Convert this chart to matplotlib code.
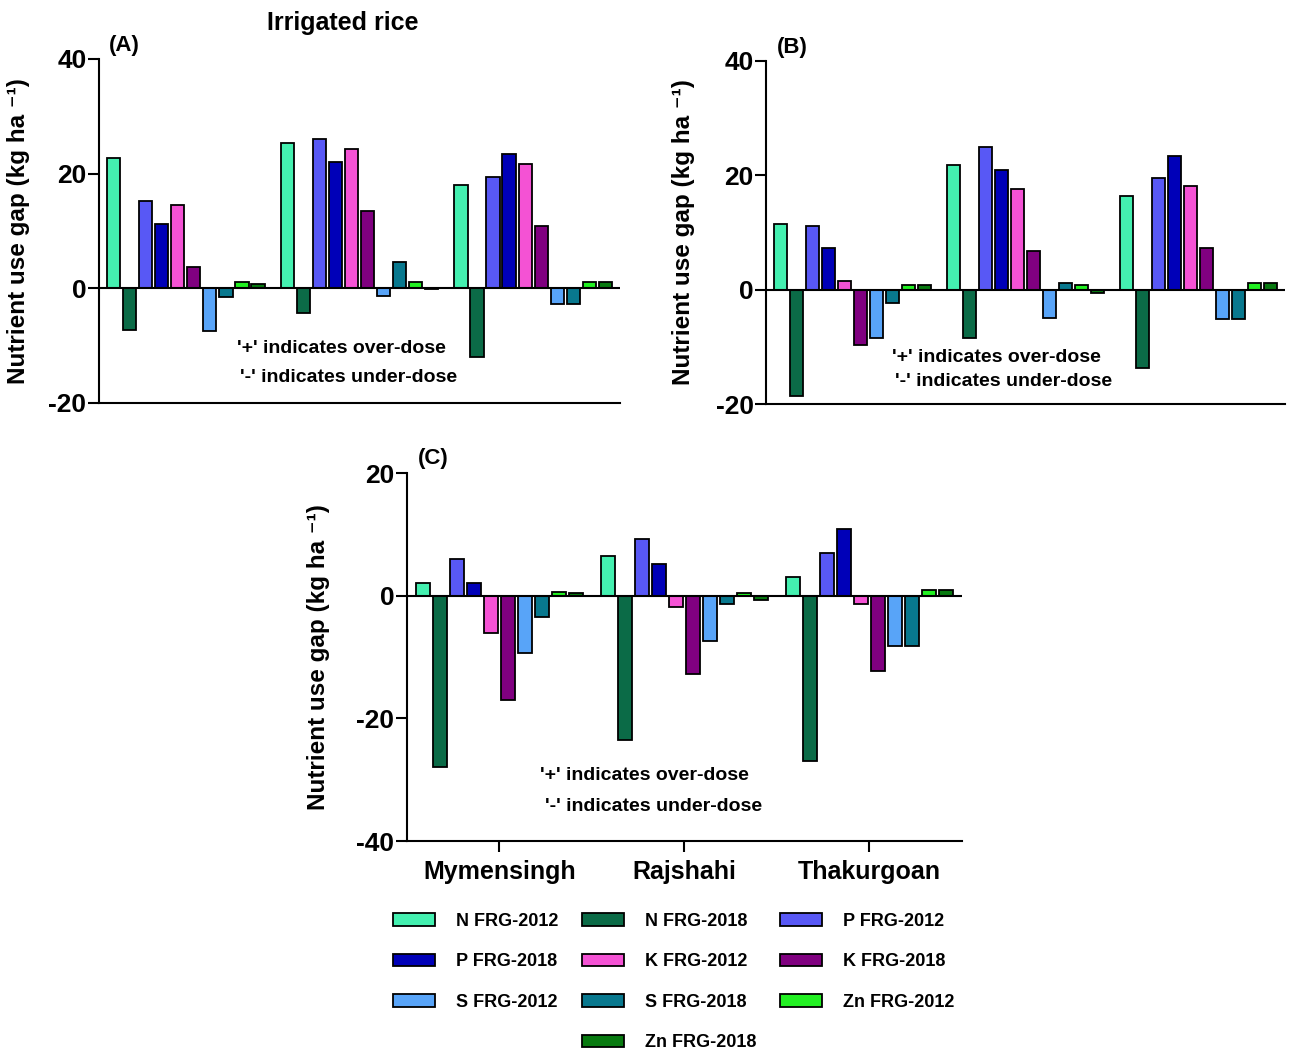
import numpy as np
import matplotlib
matplotlib.use('Agg')
import matplotlib.pyplot as plt
from matplotlib.patches import Patch

plt.rcParams['font.family'] = ['Liberation Sans', 'DejaVu Sans']
plt.rcParams['font.weight'] = 'bold'
plt.rcParams['axes.unicode_minus'] = False

# Locations (groups) and series
locations = ['Mymensingh', 'Rajshahi', 'Thakurgoan']
series = ['N FRG-2012', 'N FRG-2018', 'P FRG-2012', 'P FRG-2018', 'K FRG-2012',
          'K FRG-2018', 'S FRG-2012', 'S FRG-2018', 'Zn FRG-2012', 'Zn FRG-2018']
colors = ['#44F0B0', '#0B6B47', '#5858F5', '#0000B8', '#F452D4',
          '#800080', '#58A4F8', '#08788E', '#22F022', '#087A10']

# Nutrient use gap values, one row per location, columns follow `series`
gap_a = [
    [22.7, -7.2, 15.3, 11.3, 14.6, 3.7, -7.5, -1.5, 1.1, 0.8],
    [25.4, -4.3, 26.0, 22.1, 24.3, 13.4, -1.3, 4.6, 1.1, -0.2],
    [18.1, -11.9, 19.4, 23.4, 21.7, 10.8, -2.8, -2.8, 1.1, 1.1],
]
gap_b = [
    [11.5, -18.6, 11.2, 7.2, 1.5, -9.6, -8.4, -2.4, 0.9, 0.8],
    [21.8, -8.4, 24.9, 20.9, 17.6, 6.7, -4.9, 1.2, 0.8, -0.5],
    [16.4, -13.7, 19.5, 23.4, 18.1, 7.2, -5.2, -5.2, 1.1, 1.1],
]
gap_c = [
    [2.0, -27.9, 6.0, 2.0, -6.0, -17.0, -9.4, -3.4, 0.65, 0.4],
    [6.4, -23.6, 9.2, 5.2, -1.8, -12.8, -7.4, -1.4, 0.4, -0.7],
    [3.0, -26.9, 7.0, 10.9, -1.4, -12.3, -8.2, -8.2, 0.9, 0.9],
]

fig = plt.figure(figsize=(12.9, 10.51), dpi=100)

# axes rectangles in figure fraction
ax_a = fig.add_axes([0.0767, 0.6166, 0.4039, 0.3273])
ax_b = fig.add_axes([0.5938, 0.6156, 0.4023, 0.3264])
ax_c = fig.add_axes([0.3155, 0.1998, 0.4302, 0.3501])

bar_pitch = 0.0924
bar_w = 0.076


def draw_panel(ax, data, ylim, yticks, tag, txt_pos, show_x=False):
    data = np.array(data)
    x = np.arange(len(locations))
    for i, name in enumerate(series):
        offs = (i - 4.5) * bar_pitch
        ax.bar(x + offs, data[:, i], width=bar_w, color=colors[i],
               edgecolor='black', linewidth=1.3, zorder=2)
    ax.axhline(0, color='black', linewidth=1.5, zorder=3)
    ax.set_xlim(-0.5, 2.5)
    ax.set_ylim(*ylim)
    ax.set_yticks(yticks)
    ax.spines['top'].set_visible(False)
    ax.spines['right'].set_visible(False)
    ax.spines['left'].set_linewidth(1.5)
    ax.spines['bottom'].set_linewidth(1.5)
    ax.tick_params(axis='y', direction='out', length=8, width=1.5,
                   labelsize=19, pad=1)
    for lab in ax.get_yticklabels():
        lab.set_fontweight('bold')
    if show_x:
        ax.set_xticks(x)
        ax.set_xticklabels(locations, fontsize=18, fontweight='bold')
        ax.tick_params(axis='x', direction='out', length=8, width=1.5, pad=6)
    else:
        ax.set_xticks([])
    ax.set_ylabel('Nutrient use gap (kg ha \u207b\u00b9)', fontsize=17.5,
                  fontweight='bold')
    ax.text(0.02, 1.04, tag, transform=ax.transAxes, fontsize=16,
            fontweight='bold', va='center', ha='left')
    ax.text(txt_pos[0], txt_pos[1], "'+' indicates over-dose",
            transform=ax.transAxes, fontsize=14, fontweight='bold', va='center')
    ax.text(txt_pos[2], txt_pos[3], "'-' indicates under-dose",
            transform=ax.transAxes, fontsize=14, fontweight='bold', va='center')


draw_panel(ax_a, gap_a, (-20, 40), [-20, 0, 20, 40], '(A)',
           (0.265, 0.157, 0.271, 0.073))
draw_panel(ax_b, gap_b, (-20, 40), [-20, 0, 20, 40], '(B)',
           (0.243, 0.137, 0.249, 0.067))
draw_panel(ax_c, gap_c, (-40, 20), [-40, -20, 0, 20], '(C)',
           (0.240, 0.179, 0.249, 0.095), show_x=True)

ax_a.yaxis.set_label_coords(-0.132, 0.5)
ax_b.yaxis.set_label_coords(-0.137, 0.5)
ax_c.yaxis.set_label_coords(-0.139, 0.5)

fig.text(0.266, 0.978, 'Irrigated rice', fontsize=18, fontweight='bold',
         ha='center', va='center')

# legend laid out row by row like the original (Zn FRG-2018 alone in middle)
handles = [Patch(facecolor=c, edgecolor='black', linewidth=1.3) for c in colors]
blank = Patch(facecolor='none', edgecolor='none')
order = [(0, 3, 6, None), (1, 4, 7, 9), (2, 5, 8, None)]
leg_h, leg_l = [], []
for col in order:
    for k in col:
        if k is None:
            leg_h.append(blank)
            leg_l.append('')
        else:
            leg_h.append(handles[k])
            leg_l.append(series[k])
fig.legend(leg_h, leg_l, ncol=3, loc='upper left',
           bbox_to_anchor=(393 / 1290, 1 - 913 / 1051), frameon=False,
           handlelength=2.3, handleheight=0.7,
           handletextpad=1.2, columnspacing=1.3, labelspacing=1.3,
           borderaxespad=0, borderpad=0,
           prop={'weight': 'bold', 'size': 13})

fig.savefig('out.png', dpi=100)
